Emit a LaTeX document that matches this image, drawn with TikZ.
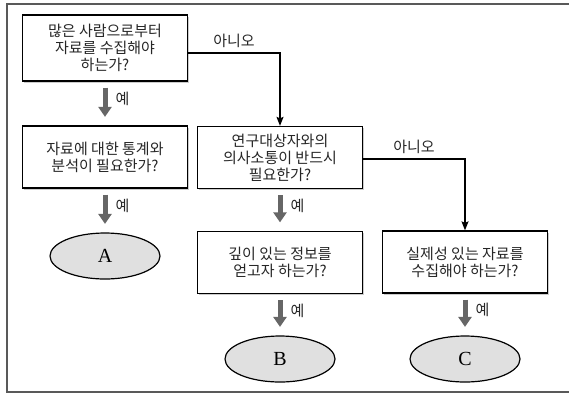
\documentclass[tikz,border=0pt]{standalone}
\usepackage{fontspec}
\setmainfont{Noto Sans CJK KR}
\newfontfamily\letterfont{Liberation Serif}
\usetikzlibrary{arrows.meta,shapes.geometric,shadows}

\begin{document}
\begin{tikzpicture}[x=1pt, y=-1pt,
    question/.style ={rectangle, draw=black, line width=1.3pt, fill=white, text=black!85,
      minimum width=165pt, minimum height=62pt, inner sep=0pt, align=center,
      font=\fontsize{15}{17}\selectfont,
      drop shadow={shadow xshift=1.8pt, shadow yshift=-1.8pt, fill=black!40}},
    answer/.style ={ellipse, draw=black, line width=1.2pt, fill=black!12,
      minimum width=110pt, minimum height=46pt, inner sep=0pt,
      font=\letterfont\fontsize{20}{20}\selectfont},
    yesarrow/.style ={draw=black!60, line width=5pt, -{Triangle[length=10pt,width=13pt]},
      shorten <=6pt, shorten >=8.5pt},
    noarrow/.style ={draw=black, line width=1.2pt, -{Stealth[length=9pt,width=7pt,inset=1.5pt]}},
    reply/.style ={text=black!85, inner sep=0pt, font=\fontsize{15}{15}\selectfont}]
   \useasboundingbox (0,0) rectangle (569,394);
   \draw[black!65, line width=1.5pt] (572,4) -- (7,4) -- (7,392) -- (572,392);

   \node[question, minimum height=66pt] (many)  at (105,48)  {많은 사람으로부터\\자료를 수집해야\\하는가?};
   \node[question] (stats)   at (105,157)   {자료에 대한 통계와\\분석이 필요한가?};
   \node[question] (talk)    at (280,157.5) {연구대상자와의\\의사소통이 반드시\\필요한가?};
   \node[question] (deep)    at (280,262.5) {깊이 있는 정보를\\얻고자 하는가?};
   \node[question] (real)    at (465,262)   {실제성 있는 자료를\\수집해야 하는가?};
   \node[answer] (A) at (105,256) {A};
   \node[answer] (B) at (280,359) {B};
   \node[answer] (C) at (465,359) {C};

   \draw[yesarrow] (many) to node[reply, pos=0.4, right=8pt] {예} (stats);
   \draw[yesarrow] (stats) to node[reply, pos=0.4, right=8pt] {예} (A);
   \draw[yesarrow] (talk) to node[reply, pos=0.4, right=8pt] {예} (deep);
   \draw[yesarrow] (deep) to node[reply, pos=0.4, right=8pt] {예} (B);
   \draw[yesarrow] (real) to node[reply, pos=0.4, right=8pt] {예} (C);
   \draw[noarrow] ([yshift=-5pt]many.east) -| node[reply, pos=0.25, above=5pt] {아니오} (talk);
   \draw[noarrow] ([yshift=-1.5pt]talk.east) -| node[reply, pos=0.25, above=5pt] {아니오} (real);
 \end{tikzpicture}
\end{document}
